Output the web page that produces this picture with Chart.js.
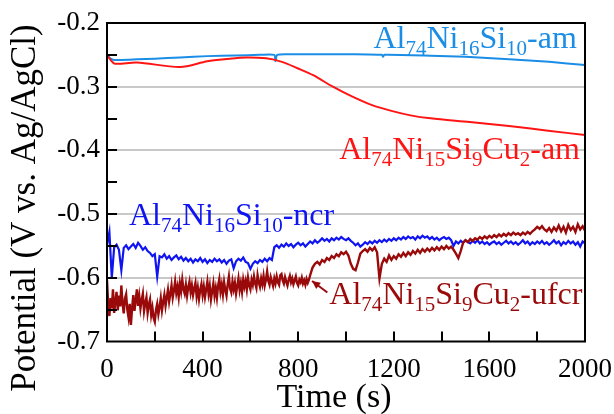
<!DOCTYPE html>
<html><head><meta charset="utf-8">
<script src="https://cdn.jsdelivr.net/npm/chart.js@4"></script>
<style>html,body{margin:0;padding:0;background:#fff;}#wrap{width:614px;height:414px;}</style>
</head><body><div id="wrap"><canvas id="c" width="614" height="414"></canvas></div>
<script>
// ---- data ----
const xTickValues = [0, 400, 800, 1200, 1600, 2000];
const yTickValues = [-0.2, -0.3, -0.4, -0.5, -0.6, -0.7];
const xTitle = 'Time (s)';
const yTitle = 'Potential (V vs. Ag/AgCl)';

const amTimeBlue = [0, 15, 30, 60, 125, 200, 306, 420, 535, 640, 700, 705, 712, 760, 860, 1027, 1150, 1155, 1160, 1354, 1500, 1682, 1850, 2000];
const amBlue = [-0.250, -0.256, -0.258, -0.258, -0.257, -0.256, -0.254, -0.252, -0.251, -0.250, -0.250, -0.260, -0.250, -0.249, -0.249, -0.249, -0.250, -0.253, -0.250, -0.2513, -0.253, -0.257, -0.261, -0.266];

const amTimeRed = [0, 15, 33, 125, 306, 420, 500, 584, 666, 732, 797, 863, 945, 1027, 1109, 1190, 1270, 1354, 1518, 1682, 1846, 2000];
const amRed = [-0.250, -0.258, -0.264, -0.262, -0.269, -0.260, -0.2565, -0.254, -0.2555, -0.261, -0.271, -0.282, -0.300, -0.3157, -0.329, -0.338, -0.345, -0.3497, -0.3555, -0.3617, -0.369, -0.376];

// ncr: sampled every 10 s from 0 to 2000 s
const ncrBlue = [
-0.548,-0.528,-0.600,-0.552,-0.548,-0.556,-0.588,-0.553,-0.549,-0.555,
-0.551,-0.547,-0.553,-0.545,-0.550,-0.556,-0.552,-0.558,-0.561,-0.566,
-0.563,-0.598,-0.566,-0.568,-0.563,-0.570,-0.566,-0.572,-0.568,-0.565,
-0.571,-0.567,-0.573,-0.569,-0.574,-0.570,-0.576,-0.571,-0.574,-0.569,
-0.575,-0.571,-0.577,-0.572,-0.575,-0.570,-0.574,-0.571,-0.576,-0.572,
-0.578,-0.573,-0.571,-0.585,-0.574,-0.570,-0.573,-0.568,-0.575,-0.577,
-0.586,-0.578,-0.574,-0.577,-0.572,-0.575,-0.570,-0.574,-0.569,-0.572,
-0.552,-0.549,-0.553,-0.548,-0.551,-0.546,-0.550,-0.547,-0.552,-0.548,
-0.545,-0.549,-0.546,-0.551,-0.547,-0.543,-0.546,-0.541,-0.545,-0.542,
-0.538,-0.542,-0.539,-0.543,-0.538,-0.541,-0.537,-0.540,-0.536,-0.539,
-0.541,-0.538,-0.542,-0.545,-0.549,-0.546,-0.551,-0.548,-0.544,-0.547,
-0.543,-0.546,-0.542,-0.545,-0.541,-0.544,-0.540,-0.543,-0.539,-0.542,
-0.538,-0.541,-0.537,-0.540,-0.536,-0.539,-0.535,-0.538,-0.536,-0.540,
-0.535,-0.538,-0.534,-0.537,-0.535,-0.539,-0.536,-0.540,-0.537,-0.541,
-0.538,-0.536,-0.539,-0.537,-0.541,-0.550,-0.543,-0.546,-0.542,-0.545,
-0.541,-0.544,-0.546,-0.542,-0.545,-0.541,-0.546,-0.543,-0.547,-0.544,
-0.548,-0.545,-0.543,-0.547,-0.544,-0.548,-0.545,-0.542,-0.546,-0.543,
-0.547,-0.544,-0.548,-0.545,-0.541,-0.546,-0.543,-0.548,-0.544,-0.547,
-0.543,-0.546,-0.542,-0.547,-0.544,-0.548,-0.545,-0.541,-0.546,-0.543,
-0.549,-0.544,-0.547,-0.542,-0.546,-0.543,-0.548,-0.544,-0.551,-0.543,
-0.546];
const ncrStep = 10;

// ufcr: every 5 s from 0 to 845 s
const ufcrEarly = [
-0.604,-0.641,-0.660,-0.632,-0.648,-0.618,-0.655,-0.637,-0.622,-0.651,
-0.628,-0.645,-0.612,-0.640,-0.656,-0.633,-0.626,-0.650,-0.662,-0.641,
-0.674,-0.648,-0.627,-0.652,-0.636,-0.618,-0.644,-0.629,-0.648,-0.635,
-0.625,-0.652,-0.640,-0.631,-0.655,-0.642,-0.634,-0.658,-0.647,-0.663,
-0.669,-0.650,-0.641,-0.657,-0.646,-0.632,-0.651,-0.638,-0.627,-0.644,
-0.631,-0.619,-0.637,-0.625,-0.612,-0.631,-0.620,-0.606,-0.624,-0.614,
-0.630,-0.609,-0.621,-0.603,-0.618,-0.625,-0.611,-0.628,-0.615,-0.606,
-0.623,-0.612,-0.627,-0.617,-0.608,-0.629,-0.616,-0.633,-0.619,-0.610,
-0.627,-0.614,-0.630,-0.618,-0.606,-0.625,-0.613,-0.634,-0.621,-0.609,
-0.628,-0.616,-0.631,-0.612,-0.602,-0.622,-0.611,-0.626,-0.607,-0.619,
-0.628,-0.610,-0.598,-0.617,-0.623,-0.606,-0.618,-0.608,-0.625,-0.613,
-0.601,-0.619,-0.608,-0.622,-0.603,-0.614,-0.605,-0.618,-0.600,-0.612,
-0.618,-0.603,-0.611,-0.598,-0.609,-0.616,-0.596,-0.607,-0.614,-0.601,
-0.610,-0.597,-0.612,-0.603,-0.590,-0.605,-0.611,-0.599,-0.606,-0.613,
-0.601,-0.609,-0.598,-0.607,-0.611,-0.596,-0.594,-0.604,-0.609,-0.599,
-0.606,-0.612,-0.603,-0.597,-0.607,-0.601,-0.610,-0.604,-0.598,-0.608,
-0.612,-0.603,-0.607,-0.600,-0.609,-0.604,-0.611,-0.602,-0.608,-0.603];
const ufcrEarlyStep = 5;
// ufcr: every 10 s from 850 to 2000 s
const ufcrLate = [
-0.596,-0.584,-0.578,-0.575,-0.579,
-0.572,-0.575,-0.569,-0.572,-0.566,-0.569,-0.563,-0.566,-0.560,-0.563,
-0.559,-0.565,-0.578,-0.586,-0.588,-0.576,-0.562,-0.558,-0.555,-0.559,
-0.553,-0.557,-0.552,-0.560,-0.601,-0.578,-0.570,-0.575,-0.565,-0.572,
-0.566,-0.570,-0.563,-0.567,-0.561,-0.566,-0.560,-0.564,-0.558,-0.562,
-0.556,-0.561,-0.555,-0.559,-0.554,-0.558,-0.553,-0.557,-0.552,-0.556,
-0.551,-0.555,-0.550,-0.554,-0.551,-0.556,-0.562,-0.569,-0.558,-0.545,
-0.541,-0.544,-0.539,-0.542,-0.538,-0.540,-0.536,-0.539,-0.535,-0.538,
-0.534,-0.537,-0.533,-0.536,-0.532,-0.535,-0.531,-0.534,-0.530,-0.533,
-0.529,-0.532,-0.530,-0.533,-0.529,-0.532,-0.528,-0.531,-0.527,-0.524,
-0.520,-0.523,-0.519,-0.524,-0.527,-0.522,-0.528,-0.521,-0.526,-0.518,
-0.527,-0.520,-0.529,-0.517,-0.525,-0.520,-0.528,-0.516,-0.524,-0.519,
-0.526];
const ufcrLateStart = 850, ufcrLateStep = 10;

const seriesNames = ['Al74Ni16Si10-am', 'Al74Ni15Si9Cu2-am', 'Al74Ni16Si10-ncr', 'Al74Ni15Si9Cu2-ufcr'];
const colors = { am: '#1a8de6', amCu: '#ff1414', ncr: '#0f14f0', ufcr: '#9a0a0a' };

const toXY = (xs, ys) => xs.map((x, i) => ({ x: x, y: ys[i] }));
const ncrTime = ncrBlue.map((_, i) => i * ncrStep);
const ufcrTime = ufcrEarly.map((_, i) => i * ufcrEarlyStep).concat(ufcrLate.map((_, i) => ufcrLateStart + i * ufcrLateStep));
const ufcrAll = ufcrEarly.concat(ufcrLate);

const FONT = '"Palatino Linotype","Book Antiqua",Palatino,"Liberation Serif",serif';

// rich label definitions (text parts: [text, isSubscript])
const richLabels = [
  { parts: [['Al',0],['74',1],['Ni',0],['16',1],['Si',0],['10',1],['-am',0]], color: colors.am, t: 1966, v: -0.2392, align: 'right' },
  { parts: [['Al',0],['74',1],['Ni',0],['15',1],['Si',0],['9',1],['Cu',0],['2',1],['-am',0]], color: colors.amCu, t: 1979, v: -0.414, align: 'right' },
  { parts: [['Al',0],['74',1],['Ni',0],['16',1],['Si',0],['10',1],['-ncr',0]], color: colors.ncr, t: 92, v: -0.517, align: 'left' },
  { parts: [['Al',0],['74',1],['Ni',0],['15',1],['Si',0],['9',1],['Cu',0],['2',1],['-ufcr',0]], color: colors.ufcr, t: 930, v: -0.641, align: 'left' }
];
const arrow = { from: { t: 922, v: -0.623 }, to: { t: 858, v: -0.605 }, color: colors.ufcr };

const mainSize = 32, subSize = 21;

function drawRich(ctx, lab, x, y) {
  let w = 0;
  const fonts = [`${mainSize}px ${FONT}`, `${subSize}px ${FONT}`];
  lab.parts.forEach(p => { ctx.font = fonts[p[1]]; w += ctx.measureText(p[0]).width; });
  let cx = lab.align === 'right' ? x - w : x;
  ctx.fillStyle = lab.color;
  ctx.textBaseline = 'alphabetic';
  ctx.textAlign = 'left';
  lab.parts.forEach(p => {
    ctx.font = fonts[p[1]];
    ctx.fillText(p[0], cx, p[1] ? y + 7 : y);
    cx += ctx.measureText(p[0]).width;
  });
}

const decor = {
  id: 'decor',
  afterDraw(chart) {
    const { ctx, chartArea: a, scales: { x, y } } = chart;
    ctx.save();
    // inner ticks
    ctx.strokeStyle = '#000'; ctx.lineWidth = 2;
    for (let t = 200; t < 2000; t += 200) {
      const px = Math.round(x.getPixelForValue(t));
      ctx.beginPath(); ctx.moveTo(px, a.bottom); ctx.lineTo(px, a.bottom - 10); ctx.stroke();
    }
    for (let k = 1; k < 10; k++) {
      const v = -0.7 + k * 0.05;
      const py = Math.round(y.getPixelForValue(v));
      ctx.beginPath(); ctx.moveTo(a.left, py); ctx.lineTo(a.left + 10, py); ctx.stroke();
    }
    // frame
    ctx.strokeRect(a.left, a.top, a.right - a.left, a.bottom - a.top);
    // axis titles
    ctx.fillStyle = '#000';
    ctx.font = `34px ${FONT}`;
    ctx.textAlign = 'center'; ctx.textBaseline = 'alphabetic';
    ctx.fillText(xTitle, 334, 407);
    ctx.save();
    ctx.font = `35px ${FONT}`;
    ctx.translate(35, 208); ctx.rotate(-Math.PI / 2);
    ctx.fillText(yTitle, 0, 0);
    ctx.restore();
    // labels
    richLabels.forEach(l => drawRich(ctx, l, x.getPixelForValue(l.t), y.getPixelForValue(l.v)));
    // arrow
    const x1 = x.getPixelForValue(arrow.from.t), y1 = y.getPixelForValue(arrow.from.v);
    const x2 = x.getPixelForValue(arrow.to.t), y2 = y.getPixelForValue(arrow.to.v);
    ctx.strokeStyle = arrow.color; ctx.fillStyle = arrow.color; ctx.lineWidth = 2;
    ctx.beginPath(); ctx.moveTo(x1, y1); ctx.lineTo(x2, y2); ctx.stroke();
    const ang = Math.atan2(y2 - y1, x2 - x1), L = 9, W = 0.45;
    ctx.beginPath(); ctx.moveTo(x2, y2);
    ctx.lineTo(x2 - L * Math.cos(ang - W), y2 - L * Math.sin(ang - W));
    ctx.lineTo(x2 - L * Math.cos(ang + W), y2 - L * Math.sin(ang + W));
    ctx.closePath(); ctx.fill();
    ctx.restore();
  }
};

const lineDs = (label, data, color, tension, width) => ({
  label, data, borderColor: color, backgroundColor: color, borderWidth: width,
  pointRadius: 0, tension: tension, fill: false
});

new Chart(document.getElementById('c'), {
  type: 'line',
  data: {
    datasets: [
      lineDs(seriesNames[3], toXY(ufcrTime, ufcrAll), colors.ufcr, 0, 2.4),
      lineDs(seriesNames[2], toXY(ncrTime, ncrBlue), colors.ncr, 0, 2.2),
      lineDs(seriesNames[1], toXY(amTimeRed, amRed), colors.amCu, 0.3, 2),
      lineDs(seriesNames[0], toXY(amTimeBlue, amBlue), colors.am, 0.2, 2)
    ]
  },
  options: {
    responsive: false, animation: false, devicePixelRatio: 1,
    layout: { padding: { left: 0, top: 23, right: 29, bottom: 0 } },
    plugins: { legend: { display: false }, tooltip: { enabled: false } },
    scales: {
      x: {
        type: 'linear', min: 0, max: 2000,
        afterFit: s => { s.height = 414 - 23 - 318.5; s.paddingLeft = 0; s.paddingRight = 0; },
        afterBuildTicks: s => { s.ticks = xTickValues.map(v => ({ value: v })); },
        grid: { display: false, drawTicks: false },
        border: { display: false },
        ticks: { color: '#000', font: { family: FONT, size: 27 }, padding: 12, maxRotation: 0, callback: v => String(v) }
      },
      y: {
        type: 'linear', min: -0.7, max: -0.2,
        afterFit: s => { s.width = 107; s.paddingTop = 0; s.paddingBottom = 0; },
        afterBuildTicks: s => { s.ticks = yTickValues.map(v => ({ value: v })); },
        grid: {
          drawTicks: false, lineWidth: 2,
          color: c => (c.tick && c.tick.value < -0.25 && c.tick.value > -0.65) ? '#c8c8c8' : 'rgba(0,0,0,0)'
        },
        border: { display: false },
        ticks: { color: '#000', font: { family: FONT, size: 27 }, padding: 7, callback: v => v.toFixed(1) }
      }
    }
  },
  plugins: [decor]
});
</script></body></html>
